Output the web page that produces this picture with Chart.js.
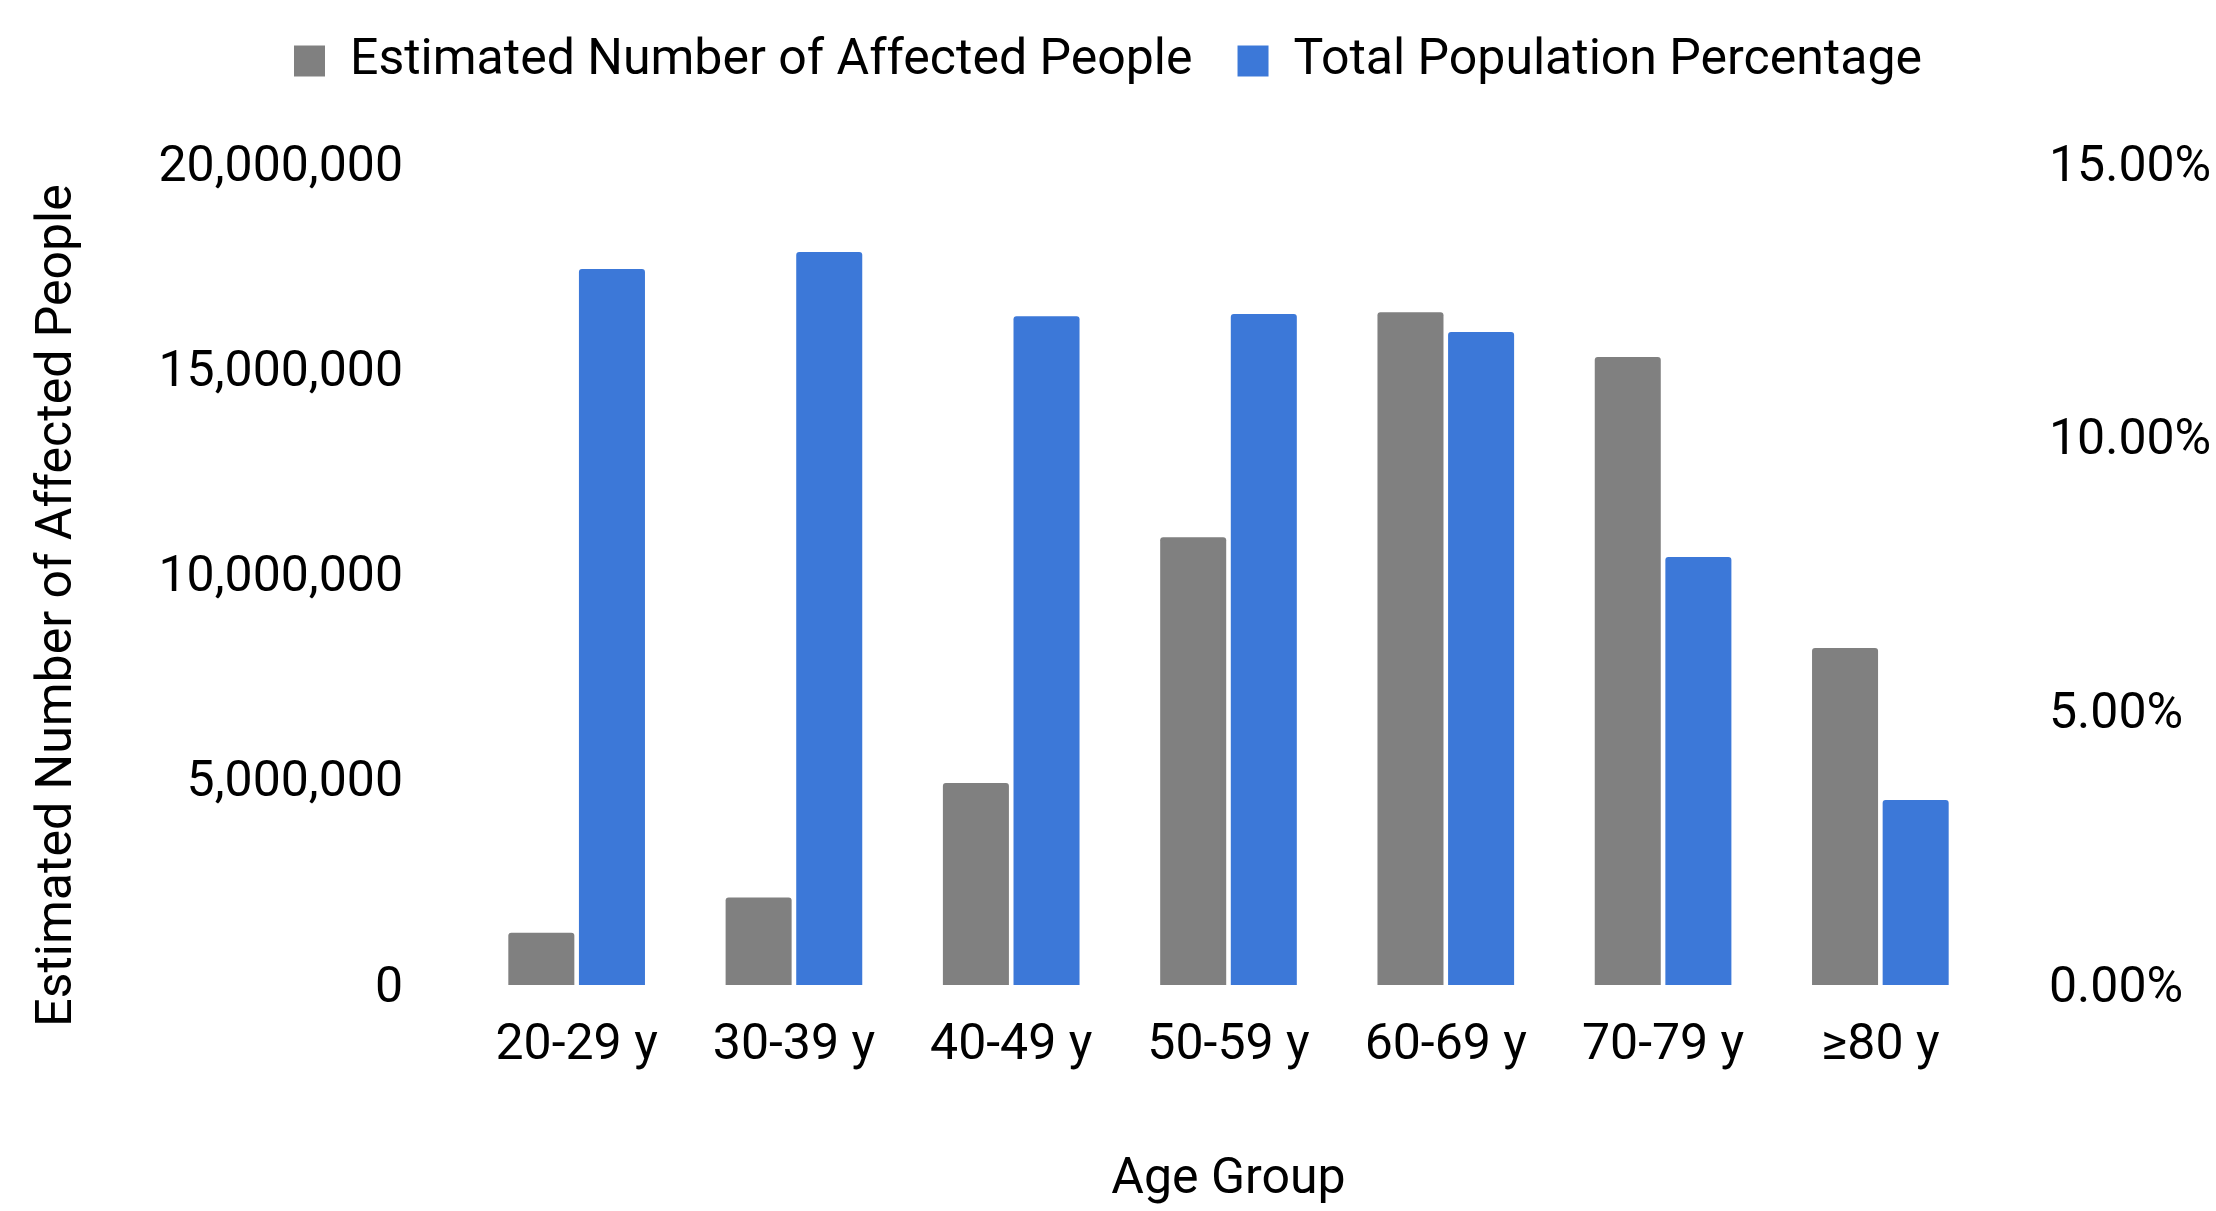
<!DOCTYPE html>
<html>
<head>
<meta charset="utf-8">
<script src="https://cdn.jsdelivr.net/npm/chart.js@4/dist/chart.umd.min.js"></script>
<style>
  html, body { margin: 0; padding: 0; background: #ffffff; }
  #wrap { width: 2216px; height: 1211px; }
</style>
</head>
<body>
<div id="wrap"><canvas id="chart" width="2216" height="1211"></canvas></div>
<script>
// Age groups along the x axis
const ageGroups = ['20-29 y', '30-39 y', '40-49 y', '50-59 y', '60-69 y', '70-79 y', '\u226580 y'];

// Estimated number of affected people per age group (left axis)
const affectedPeople = [1270000, 2130000, 4920000, 10910000, 16390000, 15300000, 8210000];

// Share of the total population, in percent (right axis)
const populationPct = [13.08, 13.39, 12.22, 12.26, 11.93, 7.82, 3.38];

// Axis tick values
const leftTicks = [0, 5000000, 10000000, 15000000, 20000000];
const rightTicks = [0, 5, 10, 15];

const FONT = 'Roboto, "Open Sans", "DejaVu Sans", sans-serif';
const SIZE = 50;
const INK = '#000000';

// Extra room between the legend and the plot area
const legendSpacer = {
  id: 'legendSpacer',
  beforeInit(chart) {
    if (!chart.legend) return;
    const baseFit = chart.legend.fit;
    chart.legend.fit = function () {
      baseFit.call(this);
      this.height += 68;
    };
  }
};

// Centre the left axis title on the whole canvas height rather than on the plot area
const leftTitleCentre = {
  id: 'leftTitleCentre',
  beforeDraw(chart) {
    const s = chart.scales.yPeople;
    if (!s || s._titleCentred) return;
    const baseDrawTitle = s.drawTitle;
    s.drawTitle = function () {
      const t = this.top, b = this.bottom;
      const shift = chart.height / 2 - (t + b) / 2;
      this.top = t + shift;
      this.bottom = b + shift;
      baseDrawTitle.call(this);
      this.top = t;
      this.bottom = b;
    };
    s._titleCentred = true;
  }
};

new Chart(document.getElementById('chart'), {
  type: 'bar',
  data: {
    labels: ageGroups,
    datasets: [
      {
        label: 'Estimated Number of Affected People',
        data: affectedPeople,
        backgroundColor: '#808080',
        yAxisID: 'yPeople',
        borderRadius: 3,
        categoryPercentage: 0.65,
        barPercentage: 0.935
      },
      {
        label: 'Total Population Percentage',
        data: populationPct,
        backgroundColor: '#3c78d8',
        yAxisID: 'yPct',
        borderRadius: 3,
        categoryPercentage: 0.65,
        barPercentage: 0.935
      }
    ]
  },
  options: {
    responsive: false,
    animation: false,
    layout: { padding: { top: -9, left: 0, right: 0, bottom: 0 } },
    plugins: {
      legend: {
        position: 'top',
        labels: {
          color: INK,
          font: { family: FONT, size: SIZE },
          boxWidth: 31,
          boxHeight: 31,
          padding: 45
        }
      },
      tooltip: { enabled: false }
    },
    scales: {
      x: {
        grid: { display: false, drawTicks: false },
        border: { display: false },
        ticks: { color: INK, font: { family: FONT, size: SIZE }, padding: 31, maxRotation: 0 },
        title: {
          display: true,
          text: 'Age Group',
          color: INK,
          font: { family: FONT, size: SIZE },
          padding: { top: 0, bottom: 1 }
        },
        afterFit(scale) { scale.height = 226; }
      },
      yPeople: {
        position: 'left',
        min: 0,
        max: 20000000,
        grid: { display: false, drawTicks: false },
        border: { display: false },
        afterBuildTicks(scale) { scale.ticks = leftTicks.map(v => ({ value: v })); },
        ticks: {
          color: INK,
          font: { family: FONT, size: SIZE },
          padding: 65,
          labelOffset: 4,
          callback: v => Number(v).toLocaleString('en-US')
        },
        title: {
          display: true,
          text: 'Estimated Number of Affected People',
          color: INK,
          font: { family: FONT, size: SIZE },
          padding: { top: 28, bottom: 0 }
        },
        afterFit(scale) { scale.width = 468; }
      },
      yPct: {
        position: 'right',
        min: 0,
        max: 15,
        grid: { display: false, drawTicks: false },
        border: { display: false },
        afterBuildTicks(scale) { scale.ticks = rightTicks.map(v => ({ value: v })); },
        ticks: {
          color: INK,
          font: { family: FONT, size: SIZE },
          padding: 60,
          labelOffset: 4,
          callback: v => Number(v).toFixed(2) + '%'
        },
        afterFit(scale) { scale.width = 227; }
      }
    }
  },
  plugins: [legendSpacer, leftTitleCentre]
});
</script>
</body>
</html>
